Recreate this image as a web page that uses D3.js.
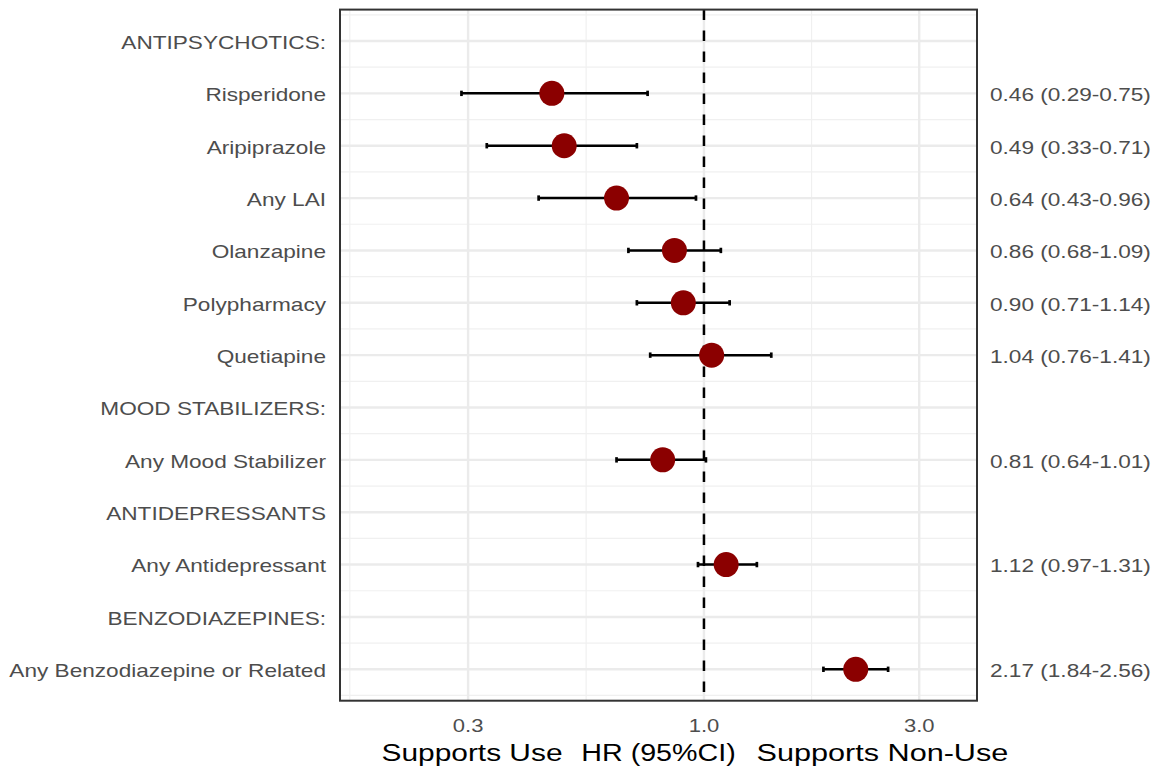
<!DOCTYPE html>
<html>
<head>
<meta charset="utf-8">
<script src="https://cdn.jsdelivr.net/npm/d3@7"></script>
<style>
	body { margin: 0; background: #fff; }
	text { font-family: "Liberation Sans", Arial, Helvetica, sans-serif; }
</style>
</head>
<body>
<div id="plot"></div>
<script>

// rows, top to bottom
var labels = [ "ANTIPSYCHOTICS:", "Risperidone", "Aripiprazole", "Any LAI",
		"Olanzapine", "Polypharmacy", "Quetiapine", "MOOD STABILIZERS:",
		"Any Mood Stabilizer", "ANTIDEPRESSANTS", "Any Antidepressant",
		"BENZODIAZEPINES:", "Any Benzodiazepine or Related" ];
var hr = [ null, 0.46, 0.49, 0.64, 0.86, 0.90, 1.04, null, 0.81, null, 1.12, null, 2.17 ];
var lower = [ null, 0.29, 0.33, 0.43, 0.68, 0.71, 0.76, null, 0.64, null, 0.97, null, 1.84 ];
var upper = [ null, 0.75, 0.71, 0.96, 1.09, 1.14, 1.41, null, 1.01, null, 1.31, null, 2.56 ];

var xTicks = [ 0.3, 1.0, 3.0 ];
var xMinor = [ 0.164, 0.548, 1.732 ];
var titleLeft = "Supports Use", titleMid = "HR (95%CI)", titleRight = "Supports Non-Use";

var options = {
	width : 1161,
	height : 774,
	panel : { left : 340, right : 977, top : 9.6, bottom : 700.7 },
	sx : 1.19 // text in the reference is drawn wider than the font
};

var svg = d3.select("#plot").append("svg").attr("width", options.width)
		.attr("height", options.height);

var p = options.panel;

var x = d3.scaleLog().domain([ 0.156, 4.03 ]).range([ p.left, p.right ]);
var y = d3.scalePoint().domain(d3.range(labels.length))
		.range([ p.top, p.bottom ]).padding(0.6);
var step = y.step();

// stretched text helper
function label(g, px, py, str, anchor, size, color, sx) {
	return g.append("g").attr("transform",
			"translate(" + px + "," + py + ") scale(" + (sx || options.sx) + ",1)")
			.append("text").attr("text-anchor", anchor)
			.style("font-size", size + "px").attr("fill", color).text(str);
}

// grid
var grid = svg.append("g").attr("class", "grid");

var minorRows = d3.range(-0.5, labels.length, 1);
grid.selectAll(".hminor").data(minorRows).enter().append("line")
		.attr("x1", p.left).attr("x2", p.right)
		.attr("y1", function(d) { return y(0) + d * step; })
		.attr("y2", function(d) { return y(0) + d * step; })
		.attr("stroke", "#f0f0f0").attr("stroke-width", 1.2);

grid.selectAll(".vminor").data(xMinor).enter().append("line")
		.attr("x1", x).attr("x2", x).attr("y1", p.top).attr("y2", p.bottom)
		.attr("stroke", "#f0f0f0").attr("stroke-width", 1.2);

grid.selectAll(".hmajor").data(d3.range(labels.length)).enter().append("line")
		.attr("x1", p.left).attr("x2", p.right)
		.attr("y1", y).attr("y2", y)
		.attr("stroke", "#ebebeb").attr("stroke-width", 2.4);

grid.selectAll(".vmajor").data(xTicks).enter().append("line")
		.attr("x1", x).attr("x2", x).attr("y1", p.top).attr("y2", p.bottom)
		.attr("stroke", "#ebebeb").attr("stroke-width", 2.4);

// reference line at HR = 1
svg.append("line").attr("x1", x(1)).attr("x2", x(1))
		.attr("y1", p.top).attr("y2", p.bottom)
		.attr("stroke", "#000").attr("stroke-width", 2.5)
		.attr("stroke-dasharray", "10.5,10.5");

// estimates
var rows = d3.range(labels.length).filter(function(i) {
	return hr[i] !== null;
});

var marks = svg.append("g").attr("class", "marks");

marks.selectAll(".ci").data(rows).enter().append("line")
		.attr("x1", function(i) { return x(lower[i]); })
		.attr("x2", function(i) { return x(upper[i]); })
		.attr("y1", y).attr("y2", y)
		.attr("stroke", "#000").attr("stroke-width", 2.5);

[ lower, upper ].forEach(function(arr) {
	marks.selectAll(null).data(rows).enter().append("line")
			.attr("x1", function(i) { return x(arr[i]); })
			.attr("x2", function(i) { return x(arr[i]); })
			.attr("y1", function(i) { return y(i) - 2.7; })
			.attr("y2", function(i) { return y(i) + 2.7; })
			.attr("stroke", "#000").attr("stroke-width", 2.7);
});

marks.selectAll("circle").data(rows).enter().append("circle")
		.attr("cx", function(i) { return x(hr[i]); })
		.attr("cy", y).attr("r", 12.5).attr("fill", "#8b0000");

// panel border
svg.append("rect").attr("x", p.left).attr("y", p.top)
		.attr("width", p.right - p.left).attr("height", p.bottom - p.top)
		.attr("fill", "none").attr("stroke", "#333").attr("stroke-width", 2);

// y labels left
labels.forEach(function(d, i) {
	label(svg, p.left - 14, y(i) + 7.8, d, "end", 19, "#4d4d4d");
});

// estimates on the right
rows.forEach(function(i) {
	var s = hr[i].toFixed(2) + " (" + lower[i].toFixed(2) + "-"
			+ upper[i].toFixed(2) + ")";
	label(svg, p.right + 13, y(i) + 7.8, s, "start", 19, "#4d4d4d");
});

// x tick labels
xTicks.forEach(function(v) {
	label(svg, x(v), p.bottom + 31.5, v.toFixed(1), "middle", 18.5, "#4d4d4d");
});

// axis title
var cx = (p.left + p.right) / 2;
label(svg, cx, 761, titleMid, "middle", 24.5, "#000", 1.17);
label(svg, cx - 96, 761, titleLeft, "end", 24.5, "#000", 1.22);
label(svg, cx + 98, 761, titleRight, "start", 24.5, "#000", 1.25);

</script>
</body>
</html>
